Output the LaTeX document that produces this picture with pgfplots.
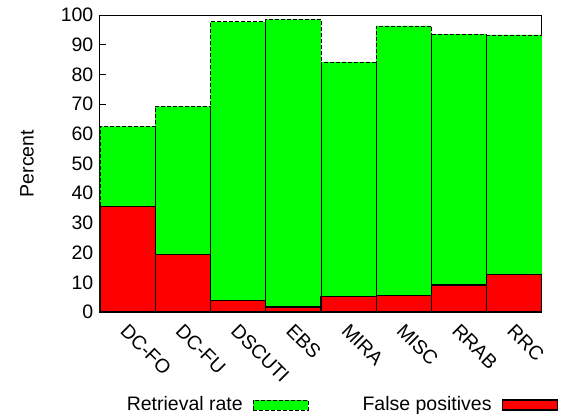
\documentclass[border=0pt]{standalone}
\usepackage{pgfplots}
\pgfplotsset{compat=1.18}
\usepackage{fontspec}
\setmainfont{Liberation Sans}
\definecolor{bargreen}{RGB}{0,255,0}
\definecolor{barred}{RGB}{255,0,0}
\begin{document}
\fontsize{19.5}{23}\selectfont
\begin{tikzpicture}
\path[use as bounding box] (0,0) rectangle (566pt,416pt);
\begin{axis}[
 at={(100pt,104pt)}, anchor=south west,
 scale only axis, width=442pt, height=297pt,
 xmin=-0.5, xmax=7.5, ymin=0, ymax=100,
 ytick={0,10,...,100},
 xtick={0,...,7},
 xticklabels={DC-FO,DC-FU,DSCUTI,EBS,MIRA,MISC,RRAB,RRC},
 xticklabel style={rotate=-45, anchor=north west, inner sep=2pt, xshift=2pt},
 xtick style={draw=none},
 ytick pos=left,
 major tick length=6pt,
 tick style={black, line width=0.8pt},
 axis line style={line width=1pt},
 /pgf/number format/assume math mode=true,
 ylabel={Percent},
 ylabel style={at={(axis description cs:-0.165,0.5)}, anchor=center},
 ybar, bar width=1, bar shift=0,
 legend plot pos=right,
 legend columns=2,
 legend style={draw=none, fill=none, at={(0.546,-0.313)}, anchor=center,
   column sep=8pt,
   /tikz/every even column/.append style={column sep=52pt}},
 legend image code/.code={\draw[#1] (0pt,-5pt) rectangle (55pt,5pt);},
]
\addplot[fill=bargreen, draw=black, dash pattern=on 4pt off 2pt, line width=0.8pt] coordinates {
 (0,62.5) (1,69.2) (2,97.7) (3,98.5) (4,84.2) (5,96.3) (6,93.6) (7,93.3)};
\addplot[fill=barred, draw=black, line width=1.3pt] coordinates {
 (0,35.6) (1,19.4) (2,3.8) (3,1.7) (4,5.2) (5,5.5) (6,9.1) (7,12.6)};
\legend{Retrieval rate, False positives}
\end{axis}
\end{tikzpicture}
\end{document}
